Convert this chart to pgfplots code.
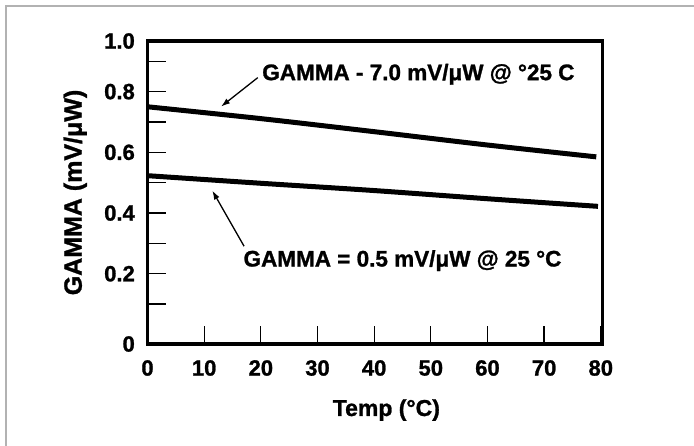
\documentclass[border=0pt]{standalone}
\usepackage{fontspec}
\setmainfont{Liberation Sans}[BoldFeatures={FakeBold=1.2}]
\usepackage{pgfplots}
\pgfplotsset{compat=1.18}
\usetikzlibrary{arrows.meta, calc}

\newcommand{\chartfont}[1]{\fontsize{#1bp}{#1bp}\selectfont\bfseries}

\begin{document}
\begin{tikzpicture}
    \begin{axis}[
        scale only axis,
        width=455bp, height=303bp,
        xmin=0, xmax=80.3,
        ymin=-0.0315, ymax=0.9667,
        xtick={0,10,...,80},
        ytick={-0.0315,0.2,0.4,0.6,0.8,0.9667},
        yticklabels={0,0.2,0.4,0.6,0.8,1.0},
        minor ytick={0.1,0.3,0.5,0.7,0.9},
        xtick pos=left, ytick pos=left,
        tick align=inside,
        major tick length=18bp, minor tick length=18bp,
        every tick/.style={black, line width=1.3bp},
        axis line style={line width=3.5bp, line join=miter},
        every tick label/.append style={inner sep=0pt, font=\chartfont{22}},
        /pgf/number format/assume math mode=true,
        xticklabel style={/pgf/number format/1000 sep=},
        xticklabel shift=16bp,
        yticklabel shift=12.5bp,
        xlabel={Temp (°C)},
        ylabel={GAMMA (mV/μW)},
        every axis x label/.style={at={(rel axis cs:0.525,-0.2376)}, anchor=base, font=\chartfont{23}},
        every axis y label/.style={at={(rel axis cs:-0.1446,0.5)}, rotate=90, anchor=base, font=\chartfont{25}},
        clip=false,
    ]
    \coordinate (SW) at (rel axis cs:0,0);

    \addplot[black, line width=5bp, smooth] coordinates {
        (0,0.750) (20,0.711) (40,0.668) (60,0.624) (79.2,0.585)
    };
    \addplot[black, line width=5bp, smooth] coordinates {
        (0,0.523) (20,0.498) (40,0.474) (60,0.447) (79.5,0.422)
    };

    % annotation for the upper curve
    \node[anchor=base west, inner sep=0pt, font=\chartfont{22.5}] at (axis cs:20.22,0.8377) {GAMMA - 7.0 mV/μW @ °25 C};
    \draw[-{Latex[length=9bp,width=6bp]}, line width=1.3bp] (axis cs:19.46,0.846) -- (axis cs:12.98,0.7506);

    % annotation for the lower curve
    \node[anchor=base west, inner sep=0pt, font=\chartfont{22.5}] at (axis cs:16.92,0.2238) {GAMMA = 0.5 mV/μW @ 25 °C};
    \draw[-{Latex[length=9bp,width=6bp]}, line width=1.3bp] (axis cs:17.04,0.2907) -- (axis cs:11.44,0.4738);
    \end{axis}

    % page is 694 x 446 bp, axis box corner sits at (147.5, 102) from its lower left
    \pgfresetboundingbox
    \useasboundingbox ($(SW)+(-147.5bp,-102bp)$) rectangle ++(694bp,446bp);
    % light frame round the figure (top and left edges only)
    \draw[black!30, line width=1.5bp] ($(SW)+(-141.5bp,-102bp)$) -- ++(0,440bp) -- ++(688bp,0);
\end{tikzpicture}
\end{document}
